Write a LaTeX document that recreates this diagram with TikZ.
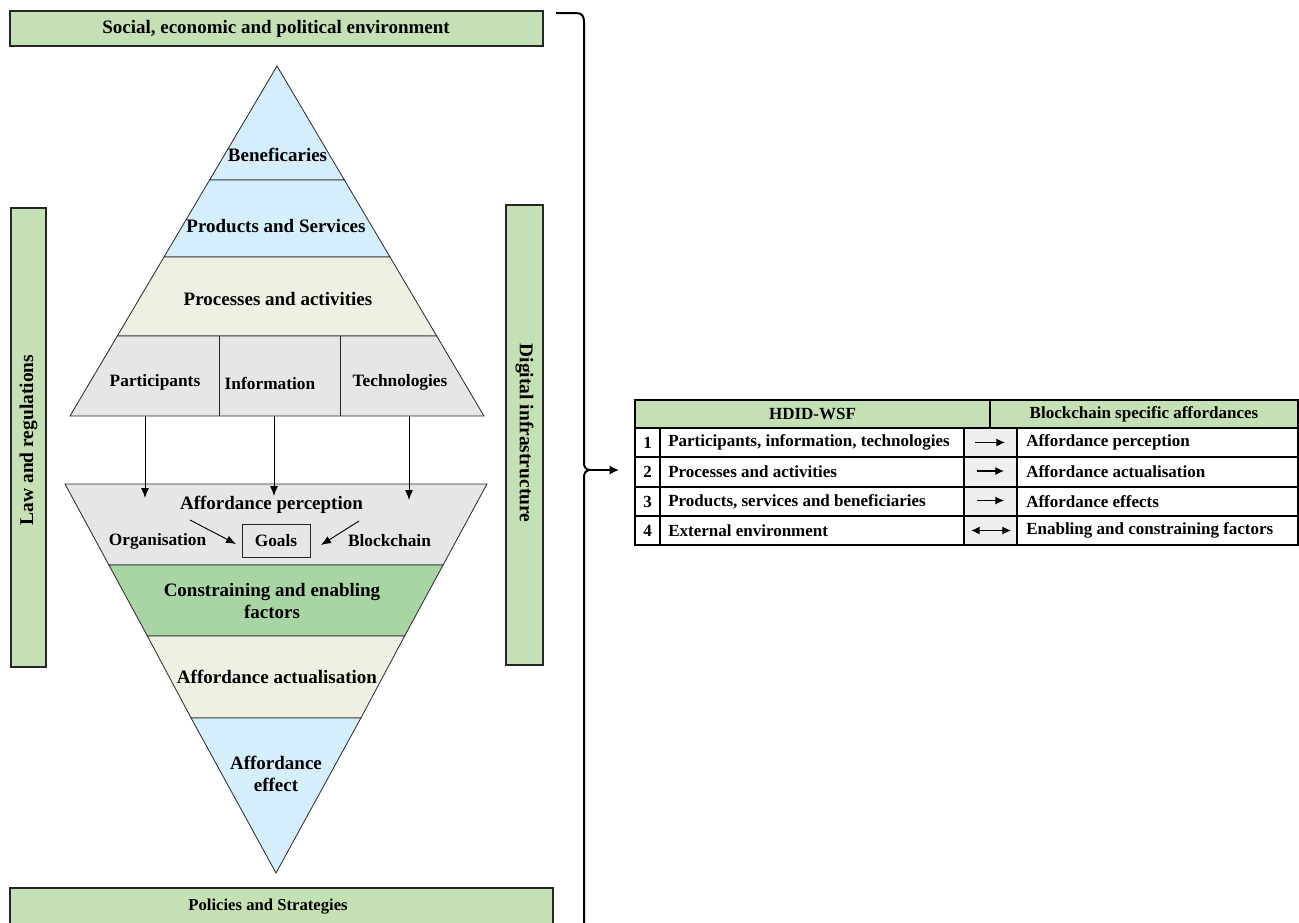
\documentclass[tikz,border=0pt]{standalone}
\usepackage{fontspec}
\setmainfont{Liberation Serif}
\usetikzlibrary{calc,arrows.meta}

\definecolor{bannergreen}{HTML}{C5E0B4}
\definecolor{layerblue}{HTML}{D4EEFB}
\definecolor{layerbeige}{HTML}{EFF0E3}
\definecolor{layergray}{HTML}{E6E6E6}
\definecolor{factorgreen}{HTML}{A9D5A5}
\definecolor{cellgray}{HTML}{EFEFEF}

\tikzset{
  lbl/.style={inner sep=0.75pt,align=center,font=\fontsize{14.25}{16.5}\selectfont\bfseries},
  smalllbl/.style={inner sep=0.75pt,align=center,font=\fontsize{13}{15}\selectfont\bfseries},
  tbl/.style={inner sep=0.75pt,font=\fontsize{12.75}{15}\selectfont\bfseries},
  layer/.style={draw=black!85,line width=0.6pt},
  bar/.style={draw=black!85,line width=0.8pt,fill=bannergreen},
  arr/.style={line width=0.7pt,-{Latex[length=7.5pt,width=6pt]}},
  tblarr/.style={line width=0.9pt,-{Latex[length=6.5pt,width=6pt]}},
}

\begin{document}
\begin{tikzpicture}[x=0.75pt,y=0.75pt,yscale=-1,xscale=1]
\useasboundingbox (0,0) rectangle (1299,922);

%Shape: Rectangle [top banner]
\draw[bar] (10,11) rectangle (543,46);
%Shape: Rectangle [bottom banner]
\draw[bar] (10,888) rectangle (553,926);
%Shape: Rectangle [left bar]
\draw[bar] (11,208) rectangle (46,667);
%Shape: Rectangle [right bar]
\draw[bar] (506,205) rectangle (543,665);

%Shape: Triangle [upper pyramid]
\draw[layer,fill=layerblue] (277,66) -- (344.4,180) -- (209.6,180) -- cycle;
\draw[layer,fill=layerblue] (209.6,180) -- (344.4,180) -- (390,257) -- (164,257) -- cycle;
\draw[layer,fill=layerbeige] (164,257) -- (390,257) -- (436.7,336) -- (117.3,336) -- cycle;
\draw[layer,fill=layergray] (117.3,336) -- (436.7,336) -- (484,416) -- (70,416) -- cycle;
\draw[layer] (219,336) -- (219,416);
\draw[layer] (340,336) -- (340,416);

%Shape: Triangle [lower pyramid]
\draw[layer,fill=layergray] (65,484) -- (487,484) -- (443.1,565) -- (108.9,565) -- cycle;
\draw[layer,fill=factorgreen] (108.9,565) -- (443.1,565) -- (404.6,636) -- (147.4,636) -- cycle;
\draw[layer,fill=layerbeige] (147.4,636) -- (404.6,636) -- (360.9,718) -- (191.1,718) -- cycle;
\draw[layer,fill=layerblue] (191.1,718) -- (360.9,718) -- (276,873) -- cycle;

% Text Node
\node[lbl] (env) at (276,28.5) {Social, economic and political environment};
% Text Node
\node[lbl,font=\fontsize{12.5}{14}\selectfont\bfseries] (policies) at (268,907) {Policies and Strategies};
% Text Node
\node[lbl,font=\fontsize{14.6}{16}\selectfont\bfseries,rotate=90] (law) at (28.5,440) {Law and regulations};
% Text Node
\node[lbl,font=\fontsize{14.6}{16}\selectfont\bfseries,rotate=-90] (digital) at (524.5,433) {Digital infrastructure};

% Text Node
\node[lbl] (benef) at (277.5,155) {Beneficaries};
% Text Node
\node[lbl] (prod) at (276,226) {Products and Services};
% Text Node
\node[lbl] (proc) at (278,299) {Processes and activities};
% Text Node
\node[smalllbl] (part) at (155,382) {Participants};
% Text Node
\node[smalllbl] (info) at (270,383) {Information};
% Text Node
\node[smalllbl] (tech) at (400,382) {Technologies};

% Text Node
\node[lbl] (percep) at (271.5,505) {Affordance perception};
% Text Node
\node[smalllbl] (org) at (157.5,541) {Organisation};
% Text Node
\node[smalllbl,draw=black!85,line width=0.6pt,minimum width=51pt,minimum height=24.75pt] (goals) at (276,540.5) {Goals};
% Text Node
\node[smalllbl] (chain) at (389.5,541) {Blockchain};
% Text Node
\node[lbl] (factors) at (272,601) {Constraining and enabling\\factors};
% Text Node
\node[lbl] (actual) at (277,677) {Affordance actualisation};
% Text Node
\node[lbl] (effect) at (276,774) {Affordance\\effect};

%Straight Lines [id:arrows to perception]
\coordinate (parttail) at (145,416);
\coordinate (parthead) at (145,498);
\coordinate (infotail) at (274,416);
\coordinate (infohead) at (274,496);
\coordinate (techtail) at (409,416);
\coordinate (techhead) at (409,500);
\draw[arr] (parttail) -- (parthead);
\draw[arr] (infotail) -- (infohead);
\draw[arr] (techtail) -- (techhead);
\coordinate (orgtail) at (190,520);
\coordinate (orghead) at (236,544);
\coordinate (chaintail) at (359,521);
\coordinate (chainhead) at (321,545);
\draw[arr] (orgtail) -- (orghead);
\draw[arr] (chaintail) -- (chainhead);

%Curve Lines [id:bracket]
\coordinate (cusp) at (590,470);
\coordinate (cusphead) at (619,470);
\draw[line width=1.5pt] (556,13) -- (576,13) .. controls (582,13) and (584,16) .. (584,22) -- (584,463)
  .. controls (584,467) and (586,470) .. (cusp) .. controls (586,470) and (584,473) .. (584,477) -- (584,926);
\draw[line width=1.5pt,-{Latex[length=7pt,width=7pt]}] (cusp) -- (cusphead);

%Shape: Table
\fill[bannergreen] (635,400) rectangle (1298,428);
\fill[cellgray] (964,428) rectangle (1017,545);
\draw[line width=0.8pt] (635,400) rectangle (1298,545);
\draw[line width=0.8pt] (635,428) -- (1298,428);
\draw[line width=0.8pt] (635,457) -- (1298,457);
\draw[line width=0.8pt] (635,487) -- (1298,487);
\draw[line width=0.8pt] (635,516) -- (1298,516);
\draw[line width=0.8pt] (990,400) -- (990,428);
\draw[line width=0.8pt] (660,428) -- (660,545);
\draw[line width=0.8pt] (964,428) -- (964,545);
\draw[line width=0.8pt] (1017,428) -- (1017,545);

% Text Node
\node[tbl] (hdid) at (812.5,414) {HDID-WSF};
% Text Node
\node[tbl] (bsa) at (1144,414) {Blockchain specific affordances};
% Text Node
\node[tbl] (n1) at (647.5,442.5) {1};
\node[tbl,anchor=west] (r1) at (667,442.5) {Participants, information, technologies};
\node[tbl,anchor=west] (s1) at (1025,442.5) {Affordance perception};
% Text Node
\node[tbl] (n2) at (647.5,472) {2};
\node[tbl,anchor=west] (r2) at (667,472) {Processes and activities};
\node[tbl,anchor=west] (s2) at (1025,472) {Affordance actualisation};
% Text Node
\node[tbl] (n3) at (647.5,501.5) {3};
\node[tbl,anchor=west] (r3) at (667,501.5) {Products, services and beneficiaries};
\node[tbl,anchor=west] (s3) at (1025,501.5) {Affordance effects};
% Text Node
\node[tbl] (n4) at (647.5,530.5) {4};
\node[tbl,anchor=west] (r4) at (667,530.5) {External environment};
\node[tbl,anchor=west] (s4) at (1025,530.5) {Enabling and constraining factors};

%Straight Lines [id:table arrows]
\coordinate (a1) at (975,442.5);
\coordinate (b1) at (1005,442.5);
\coordinate (a2) at (977,471);
\coordinate (b2) at (1004,471);
\coordinate (a3) at (977,500.5);
\coordinate (b3) at (1004,500.5);
\coordinate (a4) at (971,530.5);
\coordinate (b4) at (1011,530.5);
\draw[tblarr] (a1) -- (b1);
\draw[tblarr] (a2) -- (b2);
\draw[tblarr] (a3) -- (b3);
\draw[tblarr,{Latex[length=6.5pt,width=6pt]}-{Latex[length=6.5pt,width=6pt]}] (a4) -- (b4);

\end{tikzpicture}
\end{document}
